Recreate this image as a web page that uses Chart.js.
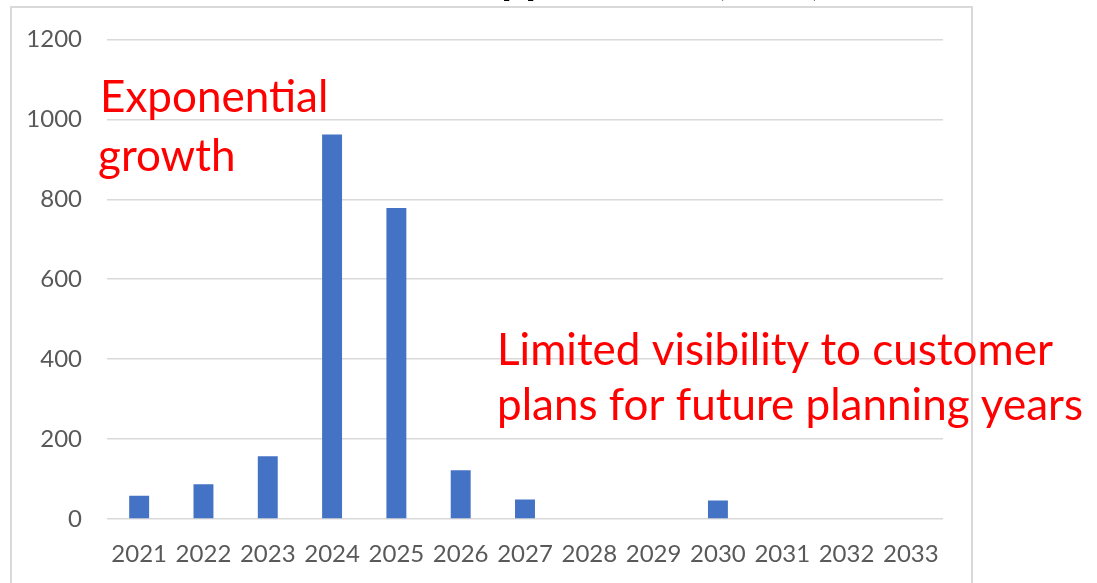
<!DOCTYPE html>
<html>
<head>
<meta charset="utf-8">
<script src="https://cdn.jsdelivr.net/npm/chart.js@4.4.1/dist/chart.umd.min.js"></script>
<style>
  html, body { margin: 0; padding: 0; background: #ffffff; }
  #wrap { position: relative; width: 1097px; height: 583px; overflow: hidden; }
  canvas { display: block; }
</style>
</head>
<body>
<div id="wrap"><canvas id="chart" width="1097" height="583"></canvas></div>
<script>
// Yearly capacity, MW
const years = ['2021', '2022', '2023', '2024', '2025', '2026', '2027',
               '2028', '2029', '2030', '2031', '2032', '2033'];
const capacityMW = [58, 87, 157, 962, 778, 122, 49, 0, 0, 46, 0, 0, 0];
const yTicks = [0, 200, 400, 600, 800, 1000, 1200];

const chartTitle = 'Applications (MW)';
const noteGrowth = ['Exponential', 'growth'];
const noteVisibility = ['Limited visibility to customer', 'plans for future planning years'];

const FONT = 'Lato, "Open Sans", "Noto Sans", sans-serif';

// Frame, clipped title and the red call-outs
const decorations = {
  id: 'decorations',
  beforeDraw(chart) {
    const ctx = chart.ctx;
    ctx.save();
    ctx.fillStyle = '#ffffff';
    ctx.fillRect(0, 0, chart.width, chart.height);
    ctx.strokeStyle = '#d9d9d9';
    ctx.lineWidth = 2;
    ctx.strokeRect(11, 7, 961, 620);
    ctx.restore();
  },
  afterDraw(chart) {
    const ctx = chart.ctx;
    const a = chart.chartArea;
    ctx.save();
    // title sits mostly above the top edge
    ctx.fillStyle = '#000000';
    ctx.font = 'bold 42px ' + FONT;
    ctx.textAlign = 'right';
    ctx.textBaseline = 'alphabetic';
    ctx.fillText(chartTitle, 822, -6);

    ctx.fillStyle = '#ff0000';
    ctx.textAlign = 'left';
    ctx.font = '44px ' + FONT;
    ctx.fillText(noteGrowth[0], a.left - 7, a.top + 73);
    ctx.fillText(noteGrowth[1], a.left - 9, a.top + 132);

    ctx.fillText(noteVisibility[0], a.left + 390, a.top + 326);
    ctx.fillText(noteVisibility[1], a.left + 390, a.top + 381);
    ctx.restore();
  }
};

new Chart(document.getElementById('chart'), {
  type: 'bar',
  data: {
    labels: years,
    datasets: [{
      data: capacityMW,
      backgroundColor: '#4472c4',
      borderWidth: 0,
      categoryPercentage: 1.0,
      barPercentage: 0.31
    }]
  },
  options: {
    responsive: false,
    animation: false,
    layout: { padding: { top: 36, right: 154, left: 0, bottom: 0 } },
    plugins: {
      legend: { display: false },
      title: { display: false },
      tooltip: { enabled: false }
    },
    scales: {
      x: {
        grid: { display: false, drawTicks: false },
        border: { display: false },
        ticks: {
          color: '#595959',
          font: { family: FONT, size: 24 },
          padding: 21,
          maxRotation: 0,
          autoSkip: false
        },
        afterFit(scale) { scale.height = 64; }
      },
      y: {
        min: 0,
        max: 1200,
        afterBuildTicks(scale) { scale.ticks = yTicks.map(v => ({ value: v })); },
        grid: { color: '#d9d9d9', lineWidth: 1.5, drawTicks: false },
        border: { display: false },
        ticks: {
          color: '#595959',
          font: { family: FONT, size: 24 },
          padding: 25,
          callback: (v) => String(v)
        },
        afterFit(scale) { scale.width = 107; }
      }
    }
  },
  plugins: [decorations]
});
</script>
</body>
</html>
